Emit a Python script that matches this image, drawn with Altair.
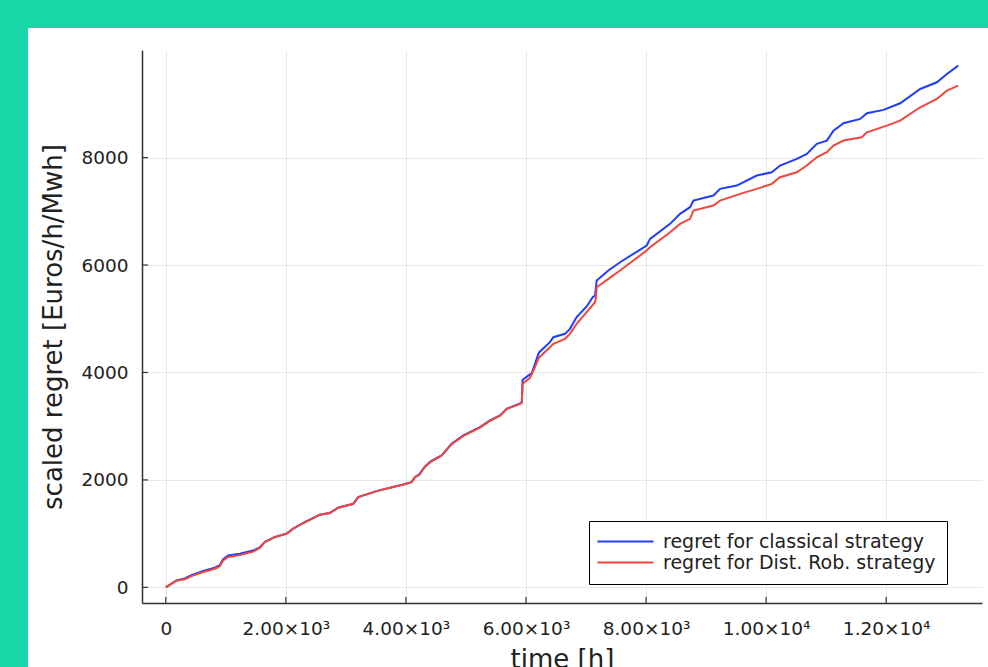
import altair as alt
import pandas as pd

# ---------------- data ----------------
series_names = ["regret for classical strategy", "regret for Dist. Rob. strategy"]
series_colors = ["#1f3cff", "#f2463a"]

t_classical = [0, 178, 317, 428, 622, 817, 900, 956, 1039, 1233, 1456, 1567, 1650, 1817,
               2011, 2122, 2289, 2567, 2733, 2872, 3122, 3206, 3511, 3733, 3956, 4094,
               4150, 4222, 4317, 4411, 4594, 4761, 4956, 5233, 5400, 5567, 5678, 5911,
               5930, 5944, 6067, 6094, 6150, 6206, 6222, 6400, 6456, 6650, 6733, 6844,
               7011, 7111, 7150, 7178, 7372, 7567, 8011, 8067, 8400, 8567, 8733, 8789,
               9122, 9233, 9511, 9844, 10094, 10233, 10511, 10678, 10844, 11011, 11122,
               11289, 11567, 11678, 11956, 12233, 12567, 12844, 13011, 13200]
v_classical = [0, 130, 165, 228, 305, 368, 415, 525, 595, 625, 685, 745, 848, 938,
               1000, 1093, 1198, 1352, 1385, 1482, 1556, 1680, 1792, 1854, 1916, 1959,
               2052, 2102, 2251, 2344, 2456, 2673, 2828, 2983, 3107, 3200, 3324, 3429,
               3445, 3864, 3963, 3980, 4161, 4347, 4378, 4564, 4657, 4719, 4812, 5030,
               5228, 5401, 5430, 5712, 5898, 6052, 6363, 6487, 6766, 6952, 7076, 7200,
               7293, 7417, 7479, 7665, 7727, 7851, 7975, 8068, 8254, 8316, 8502,
               8639, 8719, 8825, 8887, 9011, 9277, 9401, 9556, 9711]

t_dr = [0, 178, 317, 428, 622, 817, 900, 956, 1039, 1233, 1456, 1567, 1650, 1817,
        2011, 2122, 2289, 2567, 2733, 2872, 3122, 3206, 3511, 3733, 3956, 4094,
        4150, 4222, 4317, 4411, 4594, 4761, 4956, 5233, 5400, 5567, 5678, 5911,
        5930, 5944, 6067, 6111, 6150, 6206, 6222, 6400, 6456, 6650, 6733, 6844,
        7011, 7150, 7165, 7178, 7372, 7567, 8011, 8067, 8400, 8567, 8733, 8789,
        9122, 9233, 9567, 9844, 10094, 10233, 10511, 10678, 10844, 11011, 11122,
        11289, 11594, 11678, 12011, 12233, 12567, 12844, 13011, 13200]
v_dr = [0, 125, 150, 210, 285, 345, 395, 500, 565, 600, 665, 735, 843, 936,
        998, 1091, 1197, 1352, 1383, 1482, 1556, 1680, 1792, 1854, 1916, 1959,
        2052, 2090, 2240, 2335, 2450, 2665, 2820, 2975, 3100, 3195, 3320, 3420,
        3440, 3789, 3901, 4006, 4099, 4254, 4285, 4471, 4533, 4626, 4719, 4906,
        5122, 5308, 5400, 5587, 5743, 5898, 6270, 6331, 6611, 6766, 6859, 7014,
        7107, 7200, 7324, 7417, 7510, 7634, 7727, 7851, 8006, 8099, 8223,
        8316, 8378, 8471, 8595, 8688, 8936, 9091, 9246, 9339]

x_ticks = [0, 2000, 4000, 6000, 8000, 10000, 12000]
x_tick_labels = ["0", "2.00×10³", "4.00×10³", "6.00×10³", "8.00×10³", "1.00×10⁴", "1.20×10⁴"]
y_ticks = [0, 2000, 4000, 6000, 8000]
x_domain = [-396, 13596]
y_domain = [-291, 10002]

# ---------------- tables ----------------
df = pd.concat([
    pd.DataFrame({"t": t_classical, "v": v_classical, "series": series_names[0]}),
    pd.DataFrame({"t": t_dr, "v": v_dr, "series": series_names[1]}),
], ignore_index=True)
df_xt = pd.DataFrame({"t": x_ticks})
df_yt = pd.DataFrame({"v": y_ticks})

W, H = 840, 553
FONT = "DejaVu Sans"
TEAL = "#19d7a9"
TXT = "#222222"

label_expr = " : ".join(
    f"datum.value == {v} ? '{s}'" for v, s in zip(x_ticks, x_tick_labels)
) + " : ''"

x_scale = alt.Scale(domain=x_domain, nice=False, zero=False)
y_scale = alt.Scale(domain=y_domain, nice=False, zero=False)

x_enc = alt.X("t:Q", scale=x_scale,
              axis=alt.Axis(values=x_ticks, labelExpr=label_expr, title="time [h]",
                            titleFont=FONT, titleFontSize=26, titleFontWeight="normal",
                            titleColor=TXT, titleBaseline="alphabetic", titleY=64,
                            tickSize=0, labelPadding=16, labelFont=FONT, labelFontSize=18.5,
                            labelColor=TXT, labelFlush=False, labelOverlap=False,
                            domainColor="#333333", domainWidth=1.5,
                            grid=True, gridColor="#e8e8e8", gridWidth=1))
y_enc = alt.Y("v:Q", scale=y_scale,
              axis=alt.Axis(values=y_ticks, format="d", title="scaled regret [Euros/h/Mwh]",
                            titleFont=FONT, titleFontSize=26, titleFontWeight="normal",
                            titleColor=TXT, titleBaseline="middle", titleX=-89, titleY=H / 2,
                            tickSize=0, labelPadding=14, labelFont=FONT, labelFontSize=18.5,
                            labelColor=TXT, labelOverlap=False,
                            domainColor="#333333", domainWidth=1.5,
                            grid=True, gridColor="#e8e8e8", gridWidth=1))

lines = alt.Chart(df).mark_line(strokeWidth=2).encode(
    x=x_enc,
    y=y_enc,
    color=alt.Color("series:N",
                    scale=alt.Scale(domain=series_names, range=series_colors),
                    legend=alt.Legend(title=None, orient="none", legendX=447, legendY=471,
                                      symbolType="M-12,0H44", symbolSize=4,
                                      symbolStrokeWidth=2, labelFont=FONT,
                                      labelFontSize=19, labelColor=TXT, labelLimit=400,
                                      strokeColor="black", fillColor="white",
                                      padding=11, rowPadding=1, labelOffset=44)),
    detail="series:N",
)

xticks = alt.Chart(df_xt).mark_rule(color="#333333", strokeWidth=1.2).encode(
    x=alt.X("t:Q", scale=x_scale), y=alt.value(H), y2=alt.value(H - 6))
yticks = alt.Chart(df_yt).mark_rule(color="#333333", strokeWidth=1.2).encode(
    y=alt.Y("v:Q", scale=y_scale), x=alt.value(0), x2=alt.value(6))

one = alt.Data(values=[{"a": 1}])
teal_top = alt.Chart(one).mark_rect(color=TEAL, clip=False).encode(
    x=alt.value(-142), x2=alt.value(W + 6), y=alt.value(-50), y2=alt.value(-22))
teal_left = alt.Chart(one).mark_rect(color=TEAL, clip=False).encode(
    x=alt.value(-142), x2=alt.value(-114), y=alt.value(-50), y2=alt.value(H + 64))

chart = alt.layer(lines, xticks, yticks, teal_top, teal_left).properties(
    width=W, height=H,
    autosize=alt.AutoSizeParams(type="none"),
    padding={"left": 142, "top": 50, "right": 6, "bottom": 64},
    background="white",
).configure_view(stroke=None)

chart.save("out.html", embed_options={"renderer": "svg", "actions": False})
